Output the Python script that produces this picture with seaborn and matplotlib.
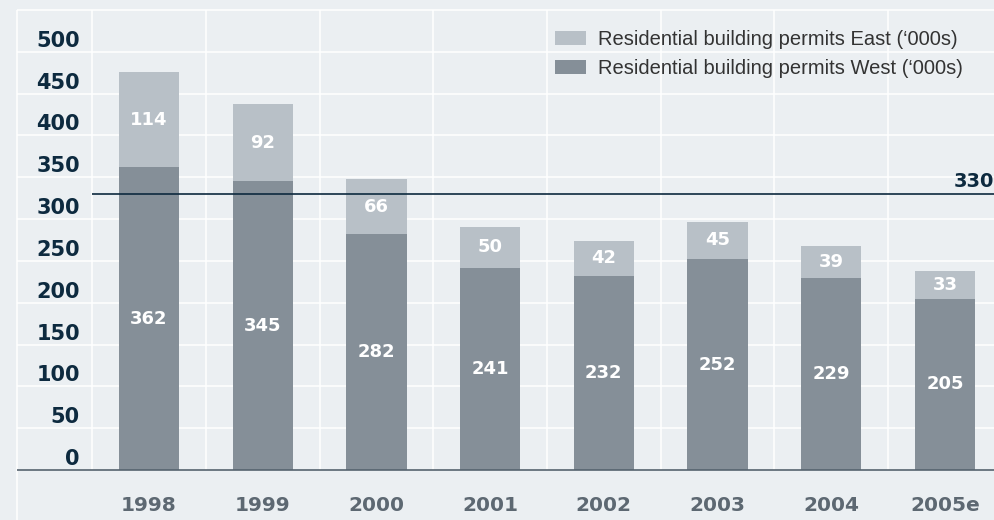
import numpy as np
import pandas as pd
import matplotlib as mpl
mpl.use('Agg')
import matplotlib.pyplot as plt
import seaborn as sns
from matplotlib.patches import Patch

# data
years = ['1998', '1999', '2000', '2001', '2002', '2003', '2004', '2005e']
west = [362, 345, 282, 241, 232, 252, 229, 205]
east = [114, 92, 66, 50, 42, 45, 39, 33]
y_ticks = [0, 50, 100, 150, 200, 250, 300, 350, 400, 450, 500]
ref_level = 330

bg = '#ebeff2'
c_east = '#b8c0c7'
c_west = '#858f98'
navy = '#0d2a3f'
grey_txt = '#5d6872'

sns.set_theme(style='white')
plt.rcParams['font.family'] = ['DejaVu Sans']

df = pd.DataFrame({'year': years, 'west': west, 'east': east})
df['total'] = df['west'] + df['east']

fig = plt.figure(figsize=(9.95, 5.2), dpi=100, facecolor=bg)
ax = fig.add_axes([0, 0, 1, 1])
ax.set_facecolor(bg)

# stacked bars: total first (east colour), west on top of it
sns.barplot(data=df, x='year', y='total', color=c_east, width=0.53,
            saturation=1, linewidth=0, ax=ax, zorder=3)
sns.barplot(data=df, x='year', y='west', color=c_west, width=0.53,
            saturation=1, linewidth=0, ax=ax, zorder=4)

x_left, x_right = -1.3105, 7.4406
ax.set_xlim(x_left, x_right)
ax.set_ylim(-59.8, 561.9)
frame_x = -1.161
n = len(years)

# grid
ax.hlines([t for t in y_ticks if t > 0] + [550], frame_x, x_right, color='white', lw=1.1, zorder=1)
ax.vlines(np.arange(n + 1) - 0.5, 0, 550, color='white', lw=1.1, zorder=1)
ax.vlines(frame_x, -59.8, 550, color='white', lw=1.1, zorder=1)
ax.hlines(0, frame_x, x_right, color='#56636e', lw=1.2, zorder=5)

# reference line
ax.hlines(ref_level, -0.5, x_right, color=navy, lw=1.2, zorder=6)
ax.text(x_right - 0.005, ref_level + 4, str(ref_level), ha='right', va='bottom',
        color=navy, fontsize=14, fontweight='bold', zorder=6)

# value labels
for i in range(n):
    ax.text(i, west[i] / 2, str(west[i]), ha='center', va='center',
            color='white', fontsize=13, fontweight='bold', zorder=7)
    ax.text(i, west[i] + east[i] / 2, str(east[i]), ha='center', va='center',
            color='white', fontsize=13, fontweight='bold', zorder=7)
    ax.text(i, -42, years[i], ha='center', va='center',
            color=grey_txt, fontsize=14.5, fontweight='bold')

for t in y_ticks:
    ax.text(-0.607, t + 6, str(t), ha='right', va='baseline',
            color=navy, fontsize=15, fontweight='bold')

for s in ax.spines.values():
    s.set_visible(False)
ax.tick_params(left=False, bottom=False, labelleft=False, labelbottom=False)
ax.set_xlabel('')
ax.set_ylabel('')

handles = [Patch(facecolor=c_east, edgecolor='none', label="Residential building permits East (\u2018000s)"),
           Patch(facecolor=c_west, edgecolor='none', label="Residential building permits West (\u2018000s)")]
ax.legend(handles=handles, loc='upper left', bbox_to_anchor=(555 / 995, 1 - 30 / 520),
          frameon=False, prop={'family': 'Liberation Sans', 'size': 14.5},
          handlelength=1.55, handleheight=0.75, handletextpad=0.6,
          labelspacing=0.5, borderpad=0, borderaxespad=0, labelcolor='#333333')

fig.savefig('out.png', dpi=100, facecolor=bg)
